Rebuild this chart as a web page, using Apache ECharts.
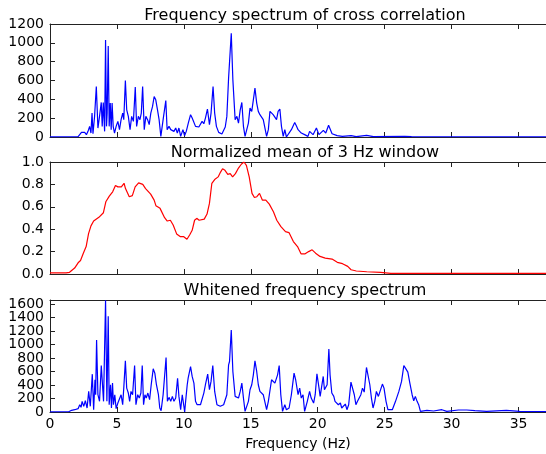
<!DOCTYPE html>
<html>
<head>
<meta charset="utf-8">
<script src="https://cdn.jsdelivr.net/npm/echarts@6/dist/echarts.min.js"></script>
<style>
  html, body { margin: 0; padding: 0; background: #fff; }
  #chart { width: 546px; height: 454px; }
</style>
</head>
<body>
<div id="chart"></div>
<script>
// panel titles
var titles = ["Frequency spectrum of cross correlation", "Normalized mean of 3 Hz window", "Whitened frequency spectrum"];
var xTicks = [0, 5, 10, 15, 20, 25, 30, 35];

// top panel: frequency spectrum of cross correlation
var specFreq = [0, 2.1, 2.22, 2.35, 2.47, 2.59, 2.72, 2.84, 2.96, 3.06, 3.14, 3.21, 3.33, 3.46, 3.58, 3.70, 3.83, 3.90, 3.98, 4.08,
  4.15, 4.22, 4.27, 4.35, 4.42, 4.50, 4.57, 4.64, 4.72, 4.82, 4.94, 5.07, 5.19, 5.31, 5.43, 5.51, 5.63, 5.73, 5.85, 5.98,
  6.10, 6.23, 6.37, 6.47, 6.60, 6.72, 6.82, 6.92, 7.04, 7.16, 7.29, 7.41, 7.53, 7.66, 7.78, 7.90, 8.03, 8.15, 8.28, 8.45,
  8.65, 8.75, 8.89, 9.02, 9.14, 9.26, 9.39, 9.51, 9.63, 9.76, 9.93, 10.05, 10.18, 10.33, 10.5, 10.62, 10.75, 10.87, 10.99, 11.12,
  11.24, 11.36, 11.49, 11.61, 11.76, 11.91, 12.03, 12.18, 12.30, 12.43, 12.6, 12.84, 13.09, 13.21, 13.34, 13.41, 13.54, 13.66, 13.83, 13.96,
  14.08, 14.21, 14.33, 14.45, 14.57, 14.70, 14.82, 14.94, 15.07, 15.19, 15.31, 15.44, 15.56, 15.68, 15.81, 15.93, 16.06, 16.18, 16.31, 16.43,
  16.55, 16.67, 16.80, 16.92, 17.04, 17.17, 17.29, 17.42, 17.54, 17.66, 17.79, 18.03, 18.28, 18.4, 18.53, 18.77, 19.02, 19.27, 19.39, 19.65,
  19.9, 20.09, 20.42, 20.6, 20.81, 21.07, 21.45, 21.84, 22.49, 22.87, 23.65, 24.16, 26.5, 27.0, 37.1];
var specVal = [2, 3, 25, 49, 28, 49, 25, 60, 113, 42, 254, 35, 219, 537, 95, 219, 367, 113, 367, 60,
  1031, 113, 254, 967, 113, 360, 78, 360, 113, 42, 113, 166, 78, 184, 254, 184, 600, 289, 219, 78,
  219, 166, 530, 113, 219, 184, 254, 537, 78, 219, 184, 131, 254, 325, 430, 395, 289, 184, 7, 184,
  388, 78, 113, 78, 95, 60, 95, 42, 95, 7, 78, 14, 60, 148, 237, 201, 219, 113, 120, 106,
  95, 166, 141, 201, 297, 131, 254, 537, 254, 113, 49, 32, 106, 219, 625, 642, 1101, 607, 184, 219,
  148, 289, 367, 113, 7, 25, 148, 307, 272, 395, 519, 360, 272, 237, 237, 184, 184, 7, 78, 272,
  289, 237, 237, 184, 272, 297, 113, 7, 78, 0, 7, 78, 155, 120, 78, 42, 25, 7, 60, 25,
  96, 25, 71, 42, 124, 35, 14, 7, 14, 4, 18, 4, 7, 3, 2];

// middle panel: normalized mean of 3 Hz window
var meanFreq = [0, 1.2, 1.46, 1.84, 2.1, 2.28, 2.49, 2.7, 2.88, 3.06, 3.26, 3.65, 3.99, 4.17, 4.43, 4.68, 4.89, 5.07, 5.2, 5.33,
  5.53, 5.64, 5.92, 6.15, 6.36, 6.62, 6.93, 7.14, 7.52, 7.78, 7.91, 8.22, 8.56, 8.76, 8.99, 9.2, 9.46, 9.72, 9.97, 10.23,
  10.44, 10.62, 10.8, 10.96, 11.14, 11.52, 11.73, 11.91, 12.09, 12.3, 12.56, 12.74, 12.89, 13.07, 13.28, 13.46, 13.64, 13.85, 14.05, 14.29,
  14.49, 14.67, 14.88, 15.09, 15.27, 15.45, 15.65, 15.86, 16.12, 16.38, 16.69, 16.94, 17.25, 17.59, 17.85, 18.18, 18.49, 18.75, 19.06, 19.32,
  19.58, 19.84, 20.17, 20.56, 21.07, 21.46, 21.85, 22.24, 22.49, 22.88, 23.66, 24.69, 25.46, 37.1];
var meanVal = [0.01, 0.01, 0.015, 0.053, 0.10, 0.12, 0.186, 0.245, 0.36, 0.43, 0.473, 0.506, 0.547, 0.645, 0.695, 0.734, 0.79, 0.778, 0.79, 0.778,
  0.81, 0.763, 0.69, 0.70, 0.778, 0.814, 0.80, 0.763, 0.713, 0.66, 0.61, 0.586, 0.503, 0.473, 0.48, 0.438, 0.358, 0.334, 0.334, 0.31,
  0.35, 0.39, 0.48, 0.497, 0.48, 0.49, 0.535, 0.63, 0.81, 0.843, 0.867, 0.91, 0.94, 0.926, 0.89, 0.896, 0.867, 0.896, 0.94, 0.98,
  1.0, 0.97, 0.867, 0.72, 0.683, 0.69, 0.72, 0.66, 0.66, 0.624, 0.556, 0.48, 0.423, 0.379, 0.37, 0.29, 0.245, 0.18, 0.18, 0.20,
  0.216, 0.186, 0.157, 0.142, 0.133, 0.104, 0.092, 0.068, 0.038, 0.027, 0.02, 0.015, 0.006, 0.006];

// bottom panel: whitened frequency spectrum
var whiteFreq = [0, 1.4, 1.61, 1.73, 1.85, 1.98, 2.10, 2.22, 2.32, 2.40, 2.52, 2.64, 2.77, 2.89, 3.01, 3.16, 3.26, 3.36, 3.41, 3.48,
  3.58, 3.70, 3.83, 3.93, 4.00, 4.15, 4.25, 4.35, 4.42, 4.52, 4.59, 4.67, 4.74, 4.84, 4.94, 5.07, 5.19, 5.31, 5.43, 5.51,
  5.63, 5.73, 5.85, 5.95, 6.05, 6.17, 6.32, 6.42, 6.55, 6.67, 6.79, 6.89, 6.99, 7.09, 7.19, 7.31, 7.44, 7.56, 7.71, 7.83,
  7.95, 8.10, 8.20, 8.30, 8.45, 8.57, 8.67, 8.77, 8.89, 9.02, 9.14, 9.26, 9.39, 9.53, 9.63, 9.76, 9.88, 10.06, 10.13, 10.25,
  10.32, 10.5, 10.62, 10.69, 10.75, 10.87, 10.99, 11.12, 11.24, 11.36, 11.49, 11.61, 11.78, 11.91, 12.03, 12.16, 12.30, 12.47, 12.72, 12.97,
  13.21, 13.34, 13.41, 13.54, 13.66, 13.83, 13.96, 14.08, 14.21, 14.33, 14.45, 14.57, 14.70, 14.82, 14.94, 15.07, 15.19, 15.31, 15.44, 15.56,
  15.68, 15.81, 15.93, 16.06, 16.18, 16.31, 16.55, 16.80, 17.0, 17.12, 17.24, 17.37, 17.54, 17.66, 17.86, 18.03, 18.23, 18.35, 18.53, 18.65,
  18.77, 18.90, 19.02, 19.22, 19.39, 19.51, 19.69, 19.81, 19.94, 20.06, 20.18, 20.28, 20.41, 20.50, 20.63, 20.70, 20.83, 20.92, 21.05, 21.2,
  21.29, 21.42, 21.54, 21.69, 21.79, 21.93, 22.06, 22.18, 22.31, 22.48, 22.60, 22.73, 22.85, 22.97, 23.10, 23.22, 23.34, 23.47, 23.64, 23.76,
  23.89, 24.01, 24.13, 24.26, 24.38, 24.53, 24.65, 24.83, 24.95, 25.1, 25.24, 25.37, 25.57, 25.81, 26.06, 26.26, 26.43, 26.55, 26.73, 26.88,
  27.05, 27.17, 27.29, 27.42, 27.54, 27.67, 28.16, 28.65, 29.27, 29.64, 30.51, 31.13, 31.74, 32.61, 34.09, 35.08, 37.1];
var whiteVal = [3, 4, 25, 15, 34, 59, 49, 108, 69, 158, 84, 167, 59, 305, 84, 561, 34, 478, 256, 1068,
  256, 158, 689, 674, 158, 1655, 158, 1420, 108, 404, 59, 428, 108, 256, 49, 133, 158, 256, 108, 354,
  758, 354, 281, 158, 305, 256, 689, 108, 256, 207, 281, 689, 108, 256, 207, 281, 182, 404, 640, 576,
  404, 256, 59, 20, 256, 256, 807, 158, 217, 158, 231, 158, 207, 500, 231, 34, 256, 0, 158, 404,
  502, 674, 527, 551, 428, 158, 108, 133, 108, 133, 281, 404, 561, 330, 453, 689, 305, 108, 84, 108,
  256, 699, 748, 1216, 601, 231, 256, 207, 305, 428, 207, 10, 34, 158, 330, 404, 551, 758, 601, 404,
  305, 305, 256, 256, 34, 158, 478, 428, 551, 689, 256, 10, 108, 34, 59, 256, 576, 478, 256, 354,
  207, 256, 10, 158, 305, 207, 133, 256, 566, 404, 231, 207, 527, 330, 354, 404, 935, 551, 281, 231,
  158, 182, 108, 133, 59, 59, 118, 34, 108, 443, 428, 256, 108, 158, 133, 256, 354, 295, 660, 650,
  404, 207, 59, 158, 305, 231, 207, 414, 354, 158, 34, 10, 34, 158, 305, 453, 689, 650, 591, 428,
  256, 167, 231, 158, 108, 10, 25, 15, 34, 10, 30, 30, 20, 10, 25, 10, 5];

function zip(xs, ys) {
  return xs.map(function (x, i) { return [x, ys[i]]; });
}

var font = "DejaVu Sans";
var ink = "#000";
var spine = "#222";
var X_MAX = 37.05;
var WHITE_MAX = 1660;

var grids = [
  { left: 50, right: -4, top: 24, height: 113 },
  { left: 50, right: -4, top: 162, height: 112 },
  { left: 50, right: -4, top: 300, height: 112 }
];

function xAxisFor(g, top, withLabels) {
  return {
    type: "value", gridIndex: g, position: top ? "top" : "bottom",
    min: 0, max: X_MAX, interval: 5,
    axisLine: { show: true, onZero: false, lineStyle: { color: spine, width: 1 } },
    axisTick: { show: true, inside: true, length: 5, lineStyle: { color: spine } },
    axisLabel: {
      show: withLabels, showMinLabel: true, showMaxLabel: false, margin: 5,
      fontFamily: font, fontSize: 14, color: ink,
      formatter: function (v) { return String(v); }
    },
    splitLine: { show: false },
    name: withLabels ? "Frequency (Hz)" : "",
    nameLocation: "middle", nameGap: 25,
    nameTextStyle: { fontFamily: font, fontSize: 14, color: ink }
  };
}

function yAxisFor(g, max, interval, fmt, bare) {
  return {
    type: "value", gridIndex: g, position: "left", min: 0, max: max, interval: interval,
    axisLine: { show: !bare, lineStyle: { color: spine, width: 1 } },
    axisTick: { show: !bare, inside: true, length: 5, lineStyle: { color: spine } },
    axisLabel: {
      showMinLabel: true,
      showMaxLabel: max % interval === 0 || interval < 1, margin: 6,
      hideOverlap: false,
      fontFamily: font, fontSize: 14, color: ink,
      formatter: fmt || function (v) { return String(v); }
    },
    splitLine: { show: false }
  };
}

// bottom panel labels are split over two stacked axes so none get dropped for overlapping
function everyOther(odd) {
  return function (v) {
    var k = Math.round(v / 200);
    if (v > WHITE_MAX - 1 || v % 200 !== 0) return "";
    return (k % 2 === 1) === odd ? String(v) : "";
  };
}

var titleTops = [3, 140, 278];

var option = {
  animation: false,
  backgroundColor: "#fff",
  title: titles.map(function (t, i) {
    return {
      text: t, left: 300, top: titleTops[i], textAlign: "center",
      textStyle: { fontFamily: font, fontSize: 16, fontWeight: "normal", color: ink }
    };
  }),
  grid: grids,
  xAxis: [
    xAxisFor(0, false, false), xAxisFor(0, true, false),
    xAxisFor(1, false, false), xAxisFor(1, true, false),
    xAxisFor(2, false, true), xAxisFor(2, true, false)
  ],
  yAxis: [
    yAxisFor(0, 1200, 200),
    yAxisFor(1, 1, 0.2, function (v) { return v.toFixed(1); }),
    yAxisFor(2, WHITE_MAX, 200, everyOther(false)),
    yAxisFor(2, WHITE_MAX, 200, everyOther(true), true)
  ],
  series: [
    {
      type: "line", xAxisIndex: 0, yAxisIndex: 0, data: zip(specFreq, specVal),
      showSymbol: false, lineStyle: { color: "#0000ff", width: 1.2 }, itemStyle: { color: "#0000ff" }
    },
    {
      type: "line", xAxisIndex: 2, yAxisIndex: 1, data: zip(meanFreq, meanVal),
      showSymbol: false, lineStyle: { color: "#ff0000", width: 1.2 }, itemStyle: { color: "#ff0000" }
    },
    {
      type: "line", xAxisIndex: 4, yAxisIndex: 2, data: zip(whiteFreq, whiteVal),
      showSymbol: false, lineStyle: { color: "#0000ff", width: 1.2 }, itemStyle: { color: "#0000ff" }
    }
  ]
};

var chart = echarts.init(document.getElementById("chart"), null, { renderer: "canvas" });
chart.setOption(option);
</script>
</body>
</html>
